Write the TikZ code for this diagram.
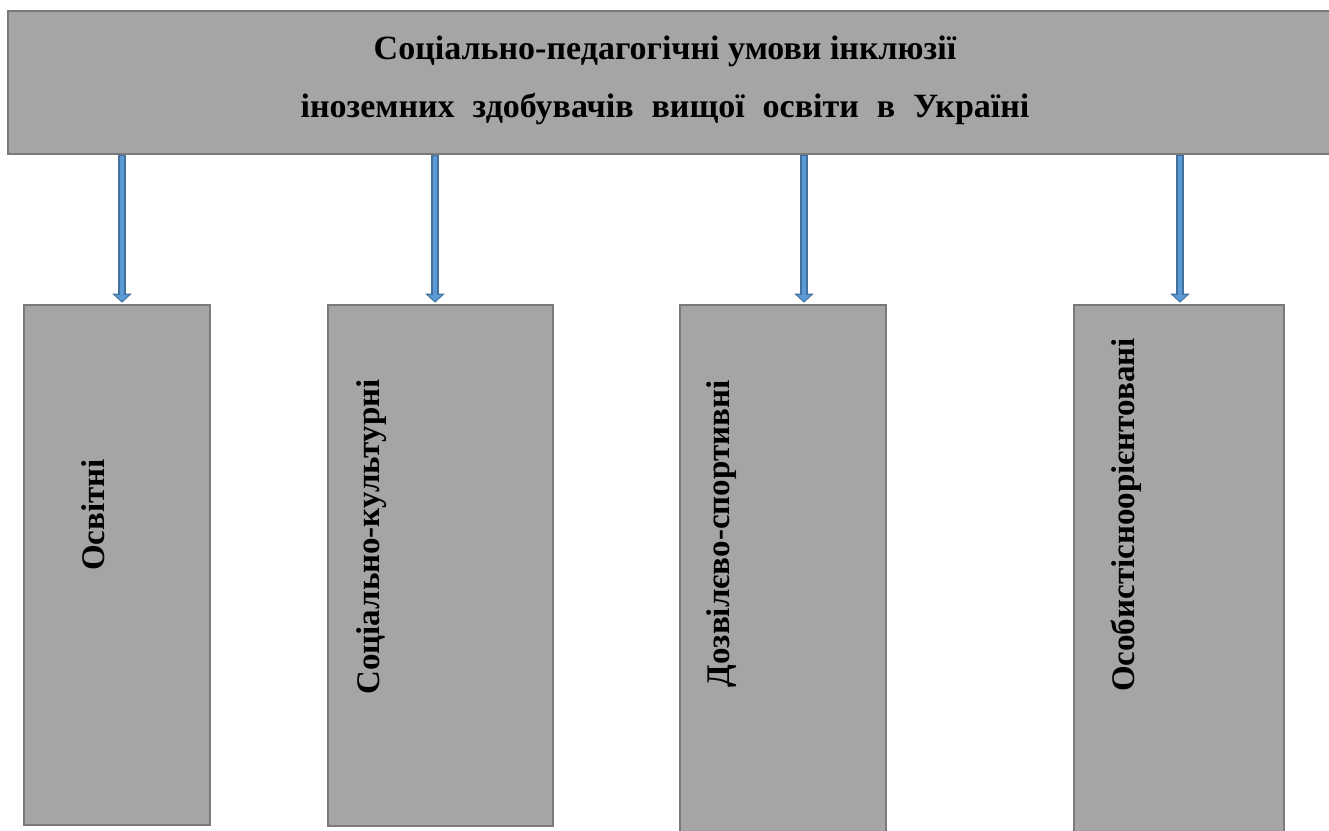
\documentclass[tikz,border=0pt]{standalone}
\usepackage{fontspec}
\setmainfont{Liberation Serif}
\usetikzlibrary{arrows.meta,calc}
\definecolor{boxfill}{HTML}{A5A5A5}
\definecolor{boxline}{HTML}{7A7A7A}
\definecolor{arrfill}{HTML}{5B9BD5}
\definecolor{arrline}{HTML}{41719C}
\tikzset{
  gbox/.style={draw=boxline, fill=boxfill, line width=2.6pt, rectangle, inner sep=0pt},
  lbl/.style={font=\bfseries\fontsize{34}{58}\selectfont, inner sep=0pt},
  vlbl/.style={font=\bfseries\fontsize{33}{40}\selectfont, inner sep=0pt, rotate=90},
  arrout/.style={draw=arrline, line width=8pt, -{Triangle[width=19pt,length=9pt]}},
  arrin/.style={draw=arrfill, line width=4pt, -{Triangle[width=13pt,length=6pt]}, shorten >=1.6pt, shorten <=1pt}
}
\begin{document}
\begin{tikzpicture}[x=1pt,y=-1pt]
\useasboundingbox (0,0) rectangle (1329,830);
\clip (0,0) rectangle (1329,830);
\node[gbox, minimum width=1332pt, minimum height=143pt] (top) at (674,82.5) {};
\node[lbl, align=center] (title) at (665,80) {Соціально-педагогічні умови інклюзії\\{\spaceskip=18pt\relax іноземних здобувачів вищої освіти в Україні}};
\node[gbox, minimum width=186pt, minimum height=520pt] (b1) at (117,565) {};
\node[gbox, minimum width=225pt, minimum height=521pt] (b2) at (440.5,565.5) {};
\node[gbox, minimum width=206pt, minimum height=530pt] (b3) at (783,570) {};
\node[gbox, minimum width=210pt, minimum height=530pt] (b4) at (1179,570) {};
\node[vlbl] (t1) at (93,515) {Освітні};
\node[vlbl] (t2) at (372,537) {Соціально-культурні};
\node[vlbl] (t3) at (722,534) {Дозвілєво-спортивні};
\node[vlbl] (t4) at (1126,515) {Особистісноорієнтовані};
\coordinate (a1) at (122,0);
\coordinate (a2) at (435,0);
\coordinate (a3) at (804,0);
\coordinate (a4) at (1180,0);
\foreach \i in {1,2,3,4}{
  \draw[arrout] ($(top.south -| a\i)+(0,0)$) -- ($(b\i.north -| a\i)+(0,-1)$);
  \draw[arrin] ($(top.south -| a\i)+(0,0)$) -- ($(b\i.north -| a\i)+(0,-1)$);
}
\end{tikzpicture}
\end{document}
